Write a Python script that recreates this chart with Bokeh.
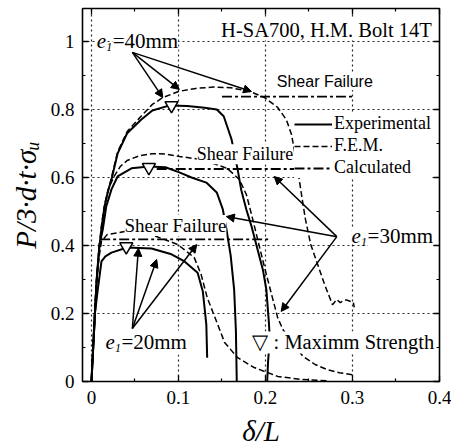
from bokeh.plotting import figure
from bokeh.models import (Range1d, FixedTicker, CustomJSTickFormatter, LinearAxis, Label,
                          Arrow, NormalHead, Legend, LegendItem)
from bokeh.embed import file_html
from bokeh.resources import INLINE

# ---------------- data ----------------
x_ticks = [0, 0.1, 0.2, 0.3, 0.4]
x_minor = [0.05, 0.15, 0.25, 0.35]
y_ticks = [0, 0.2, 0.4, 0.6, 0.8, 1.0]
y_minor = [0.1, 0.3, 0.5, 0.7, 0.9]

# e1 = 40 mm
exp40_x = [0, 0.002, 0.004, 0.006, 0.009, 0.0115, 0.015, 0.019, 0.023, 0.03, 0.041, 0.057, 0.07,
           0.09, 0.11, 0.13, 0.144, 0.152, 0.156, 0.161, 0.168, 0.172, 0.178, 0.184, 0.19, 0.197,
           0.201, 0.204, 0.205, 0.203, 0.202]
exp40_y = [0, 0.1, 0.2, 0.3, 0.39, 0.45, 0.515, 0.56, 0.594, 0.67, 0.73, 0.77, 0.797,
           0.812, 0.81, 0.805, 0.8, 0.78, 0.75, 0.712, 0.624, 0.565, 0.506, 0.456, 0.397, 0.329,
           0.27, 0.17, 0.124, 0.06, 0.0]
fem40_x = [0, 0.002, 0.004, 0.006, 0.009, 0.0115, 0.015, 0.019, 0.023, 0.03, 0.041, 0.057, 0.07,
           0.082, 0.10, 0.12, 0.14, 0.16, 0.182, 0.199, 0.214, 0.224, 0.23, 0.233, 0.237, 0.241,
           0.246, 0.252, 0.26, 0.268, 0.277, 0.282, 0.286, 0.289, 0.293, 0.297, 0.301, 0.302]
fem40_y = [0, 0.1, 0.2, 0.3, 0.39, 0.45, 0.515, 0.56, 0.6, 0.675, 0.735, 0.78, 0.815,
           0.835, 0.853, 0.862, 0.866, 0.864, 0.853, 0.835, 0.806, 0.77, 0.726, 0.682, 0.624, 0.556,
           0.476, 0.403, 0.344, 0.285, 0.226, 0.241, 0.232, 0.237, 0.24, 0.236, 0.232, 0.218]
calc40_x = [0.15, 0.30]
calc40_y = [0.838, 0.838]

# e1 = 30 mm
exp30_x = [0, 0.002, 0.004, 0.006, 0.009, 0.013, 0.017, 0.023, 0.03, 0.046, 0.066, 0.085, 0.101,
           0.115, 0.132, 0.144, 0.151, 0.155, 0.16, 0.164, 0.166, 0.167]
exp30_y = [0, 0.1, 0.2, 0.3, 0.4, 0.447, 0.515, 0.565, 0.603, 0.627, 0.632, 0.63, 0.615,
           0.60, 0.585, 0.556, 0.506, 0.45, 0.37, 0.27, 0.15, 0.0]
fem30_x = [0, 0.002, 0.004, 0.006, 0.009, 0.012, 0.016, 0.02, 0.026, 0.033, 0.041, 0.055, 0.07,
           0.085, 0.101, 0.12, 0.136, 0.156, 0.17, 0.178, 0.184, 0.191, 0.199, 0.207, 0.214, 0.22,
           0.231, 0.243, 0.257, 0.271, 0.285, 0.30]
fem30_y = [0, 0.1, 0.2, 0.3, 0.4, 0.47, 0.53, 0.57, 0.603, 0.632, 0.65, 0.664, 0.67,
           0.669, 0.662, 0.655, 0.645, 0.627, 0.594, 0.55, 0.491, 0.418, 0.335, 0.256, 0.188, 0.153,
           0.115, 0.074, 0.05, 0.035, 0.026, 0.02]
calc30_x = [0.075, 0.24]
calc30_y = [0.625, 0.625]

# e1 = 20 mm
exp20_x = [0, 0.002, 0.004, 0.007, 0.0115, 0.016, 0.023, 0.041, 0.069, 0.092, 0.107, 0.122,
           0.128, 0.132, 0.133]
exp20_y = [0, 0.1, 0.2, 0.265, 0.353, 0.368, 0.379, 0.394, 0.391, 0.374, 0.353, 0.32,
           0.265, 0.168, 0.07]
fem20_x = [0, 0.002, 0.004, 0.006, 0.009, 0.0115, 0.018, 0.038, 0.069, 0.099, 0.118, 0.126,
           0.133, 0.145, 0.153, 0.168, 0.187, 0.214, 0.241, 0.271]
fem20_y = [0, 0.12, 0.23, 0.3, 0.37, 0.412, 0.432, 0.441, 0.432, 0.403, 0.365, 0.315,
           0.247, 0.168, 0.115, 0.07, 0.041, 0.015, 0.006, 0.002]
calc20_x = [0.01, 0.205]
calc20_y = [0.418, 0.418]

# maximum strength markers
max_x = [0.092, 0.066, 0.040]
max_y = [0.812, 0.630, 0.397]

# annotation arrows: start point and end points
arrow40_start = (0.047, 0.968)
arrow40_end_x = [0.082, 0.101, 0.184]
arrow40_end_y = [0.835, 0.859, 0.853]
arrow30_start = (0.282, 0.426)
arrow30_end_x = [0.155, 0.21, 0.218]
arrow30_end_y = [0.485, 0.603, 0.206]
arrow20_start = (0.047, 0.156)
arrow20_end_x = [0.054, 0.075, 0.121]
arrow20_end_y = [0.392, 0.359, 0.403]

SERIF = "Liberation Serif"
SANS = "Liberation Sans"

p = figure(frame_width=357, frame_height=373,
           x_range=Range1d(-0.0103, 0.4), y_range=Range1d(0, 1.097),
           output_backend="svg", toolbar_location=None,
           min_border_left=82, min_border_right=12, min_border_top=8, min_border_bottom=63,
           background_fill_color="white", border_fill_color="white")

p.outline_line_color = "black"
p.outline_line_width = 1.6

fmt = "return String(Math.round(tick*100)/100);"

def style_axis(ax, ticks, minor, labels=True):
    ax.ticker = FixedTicker(ticks=ticks, minor_ticks=minor)
    ax.axis_line_color = None
    ax.major_tick_in = 6
    ax.major_tick_out = 0
    ax.minor_tick_in = 3
    ax.minor_tick_out = 0
    ax.major_tick_line_color = "black"
    ax.minor_tick_line_color = "black"
    ax.major_tick_line_width = 1.3
    ax.minor_tick_line_width = 1.2
    if labels:
        ax.formatter = CustomJSTickFormatter(code=fmt)
        ax.major_label_text_font = SERIF
        ax.major_label_text_font_size = "19px"
        ax.major_label_text_color = "black"
    else:
        ax.major_label_text_font_size = "0px"
        ax.major_label_standoff = 0

xa = p.xaxis[0]
ya = p.yaxis[0]
style_axis(xa, x_ticks, x_minor)
style_axis(ya, y_ticks, y_minor)
xa.major_label_standoff = 9
ya.major_label_standoff = 8
xa.axis_label = "δ/L"
ya.axis_label = "P/3·d·t·σᵤ"
for ax in (xa, ya):
    ax.axis_label_text_font = SERIF
    ax.axis_label_text_font_style = "italic"
    ax.axis_label_text_font_size = "29px"
    ax.axis_label_text_color = "black"
xa.axis_label_standoff = 8
ya.axis_label_standoff = 6

top = LinearAxis()
right = LinearAxis()
style_axis(top, x_ticks, x_minor, labels=False)
style_axis(right, y_ticks, y_minor, labels=False)
p.add_layout(top, "above")
p.add_layout(right, "right")

for g in (p.xgrid[0], p.ygrid[0]):
    g.grid_line_color = "black"
    g.grid_line_dash = "2 3"
    g.grid_line_width = 1.2
    g.grid_line_alpha = 0.85
p.xgrid[0].ticker = FixedTicker(ticks=x_ticks)
p.ygrid[0].ticker = FixedTicker(ticks=y_ticks)

EXP = dict(line_color="black", line_width=2)
FEM = dict(line_color="black", line_width=1.5, line_dash="6 3")
CAL = dict(line_color="black", line_width=1.8, line_dash="10 3 3 3")

r_exp = p.line(exp40_x, exp40_y, **EXP)
p.line(exp30_x, exp30_y, **EXP)
p.line(exp20_x, exp20_y, **EXP)
r_fem = p.line(fem40_x, fem40_y, **FEM)
p.line(fem30_x, fem30_y, **FEM)
p.line(fem20_x, fem20_y, **FEM)
r_cal = p.line(calc40_x, calc40_y, **CAL)
p.line(calc30_x, calc30_y, **CAL)
p.line(calc20_x, calc20_y, **CAL)

p.scatter(max_x, max_y, marker="inverted_triangle", size=13, fill_color="white",
          line_color="black", line_width=1.5)

legend = Legend(items=[LegendItem(label="Experimental", renderers=[r_exp]),
                       LegendItem(label="F.E.M.", renderers=[r_fem]),
                       LegendItem(label="Calculated", renderers=[r_cal])],
                location=(212, 203), glyph_width=38, glyph_height=20, label_height=20,
                spacing=1, padding=1, margin=0, label_standoff=2,
                border_line_color=None, background_fill_color="white", background_fill_alpha=1,
                label_text_font=SERIF, label_text_font_size="18px", label_text_color="black")
p.add_layout(legend)

def add_text(x, y, text, font=SERIF, size="21px", style="normal", xoff=0, yoff=0, bg=True):
    lab = Label(x=x, y=y, text=text, text_font=font, text_font_size=size,
                text_font_style=style, text_color="black", text_baseline="middle",
                text_align="left", x_offset=xoff, y_offset=yoff)
    if bg:
        lab.background_fill_color = "white"
    p.add_layout(lab)

def e_label(x, y, rest):
    add_text(x, y, rest, xoff=16)
    add_text(x, y, "e", style="italic", size="21px")
    add_text(x, y, "1", style="italic", size="12px", xoff=9.5, yoff=-6, bg=False)

add_text(0.149, 1.035, "H-SA700, H.M. Bolt 14T", size="20.5px")
add_text(0.213, 0.882, "Shear Failure", font=SANS, size="16px")
add_text(0.121, 0.668, "Shear Failure", size="18px")
add_text(0.038, 0.459, "Shear Failure", size="19px")
add_text(0.185, 0.115, "▽ : Maximm Strength", size="20.5px")
e_label(0.006, 1.0, "=40mm")
e_label(0.299, 0.429, "=30mm")
e_label(0.016, 0.115, "=20mm")

def arrows(start, ex, ey):
    for x1, y1 in zip(ex, ey):
        p.add_layout(Arrow(end=NormalHead(size=8, fill_color="black", line_color="black"),
                           x_start=start[0], y_start=start[1], x_end=x1, y_end=y1,
                           line_color="black", line_width=1.5))

arrows(arrow40_start, arrow40_end_x, arrow40_end_y)
arrows(arrow30_start, arrow30_end_x, arrow30_end_y)
arrows(arrow20_start, arrow20_end_x, arrow20_end_y)

open("out.html", "w").write(file_html(p, INLINE))
